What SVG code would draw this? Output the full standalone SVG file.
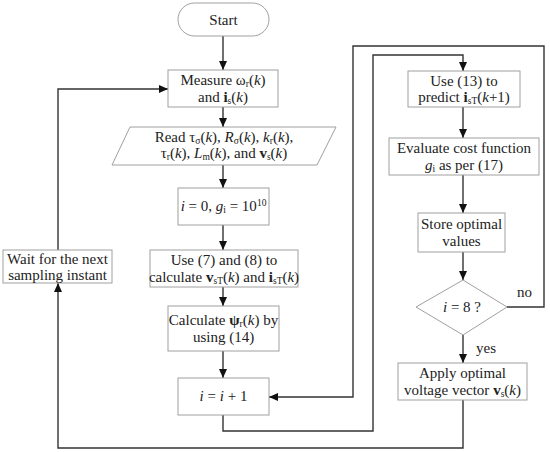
<svg xmlns="http://www.w3.org/2000/svg" width="550" height="452" viewBox="0 0 550 452">
<defs>
<style>
.box{fill:#fff;stroke:#a0a0a0;stroke-width:1}
.ln{fill:none;stroke:#333;stroke-width:1.4}
.t{font-family:"Liberation Serif","DejaVu Serif",serif;font-size:15px;fill:#222;text-anchor:middle}
.tl{font-family:"Liberation Serif","DejaVu Serif",serif;font-size:15px;fill:#222}
.i{font-style:italic}
.b{font-weight:bold}
.s{font-size:9.5px}
</style>
<marker id="ah" markerWidth="9" markerHeight="8" refX="9" refY="4" orient="auto" markerUnits="userSpaceOnUse">
<path d="M0,0 L9,4 L0,8 z" fill="#111"/>
</marker>
</defs>
<rect width="550" height="452" fill="#fff"/>

<g id="connectors">
<path class="ln" d="M223,36 V70" marker-end="url(#ah)"/>
<path class="ln" d="M223,107 V127" marker-end="url(#ah)"/>
<path class="ln" d="M223,165 V188" marker-end="url(#ah)"/>
<path class="ln" d="M223,225 V250" marker-end="url(#ah)"/>
<path class="ln" d="M223,287 V306" marker-end="url(#ah)"/>
<path class="ln" d="M223,351 V378" marker-end="url(#ah)"/>
<path class="ln" d="M223,415 V431 H373 V55 H463 V71" marker-end="url(#ah)"/>
<path class="ln" d="M463,107 V138" marker-end="url(#ah)"/>
<path class="ln" d="M463,175 V213" marker-end="url(#ah)"/>
<path class="ln" d="M463,252 V280" marker-end="url(#ah)"/>
<path class="ln" d="M463,335 V363" marker-end="url(#ah)"/>
<path class="ln" d="M507,307 H544 V46 H353 V397 H269" marker-end="url(#ah)"/>
<path class="ln" d="M463,400 V448 H58 V283" marker-end="url(#ah)"/>
<path class="ln" d="M58,250 V89 H168" marker-end="url(#ah)"/>
<text class="tl" x="517" y="297">no</text>
<text class="tl" x="476" y="353">yes</text>
</g>

<g id="start">
<rect class="box" x="178" y="3" width="91" height="33" rx="16.5"/>
<text class="t" x="223.5" y="24.5">Start</text>
</g>

<g id="measure">
<rect class="box" x="168" y="70" width="110" height="37"/>
<text class="t" x="223" y="85">Measure ω<tspan class="s" dy="2">r</tspan><tspan dy="-2">(</tspan><tspan class="i">k</tspan>)</text>
<text class="t" x="223" y="102">and <tspan class="b">i</tspan><tspan class="s" dy="2">s</tspan><tspan dy="-2">(</tspan><tspan class="i">k</tspan>)</text>
</g>

<g id="read">
<polygon class="box" points="130,127 336,127 317,165 112,165"/>
<text class="t" x="224" y="142">Read τ<tspan class="s" dy="2">σ</tspan><tspan dy="-2">(</tspan><tspan class="i">k</tspan>), <tspan class="i">R</tspan><tspan class="s" dy="2">σ</tspan><tspan dy="-2">(</tspan><tspan class="i">k</tspan>), <tspan class="i">k</tspan><tspan class="s" dy="2">r</tspan><tspan dy="-2">(</tspan><tspan class="i">k</tspan>),</text>
<text class="t" x="224" y="158">τ<tspan class="s" dy="2">r</tspan><tspan dy="-2">(</tspan><tspan class="i">k</tspan>), <tspan class="i">L</tspan><tspan class="s" dy="2">m</tspan><tspan dy="-2">(</tspan><tspan class="i">k</tspan>), and <tspan class="b">v</tspan><tspan class="s" dy="2">s</tspan><tspan dy="-2">(</tspan><tspan class="i">k</tspan>)</text>
</g>

<g id="init">
<rect class="box" x="178" y="188" width="91" height="37"/>
<text class="t" x="223.5" y="211"><tspan class="i">i</tspan> = 0, <tspan class="i">g</tspan><tspan class="s" dy="2">i</tspan><tspan dy="-2"> = 10</tspan><tspan class="s" dy="-5">10</tspan></text>
</g>

<g id="use78">
<rect class="box" x="150" y="250" width="148" height="37"/>
<text class="t" x="224" y="265">Use (7) and (8) to</text>
<text class="t" x="224" y="282">calculate <tspan class="b">v</tspan><tspan class="s" dy="2">sT</tspan><tspan dy="-2">(</tspan><tspan class="i">k</tspan>) and <tspan class="b">i</tspan><tspan class="s" dy="2">sT</tspan><tspan dy="-2">(</tspan><tspan class="i">k</tspan>)</text>
</g>

<g id="calcpsi">
<rect class="box" x="168" y="306" width="111" height="45"/>
<text class="t" x="223.5" y="325">Calculate <tspan class="b">ψ</tspan><tspan class="s" dy="2">r</tspan><tspan dy="-2">(</tspan><tspan class="i">k</tspan>) by</text>
<text class="t" x="223.5" y="342">using (14)</text>
</g>

<g id="incr">
<rect class="box" x="178" y="378" width="91" height="37"/>
<text class="t" x="223.5" y="401"><tspan class="i">i</tspan> = <tspan class="i">i</tspan> + 1</text>
</g>

<g id="wait">
<rect class="box" x="3" y="250" width="109" height="33"/>
<text class="t" x="57.5" y="264">Wait for the next</text>
<text class="t" x="57.5" y="280">sampling instant</text>
</g>

<g id="use13">
<rect class="box" x="408" y="71" width="112" height="36"/>
<text class="t" x="464" y="86">Use (13) to</text>
<text class="t" x="464" y="102">predict <tspan class="b">i</tspan><tspan class="s" dy="2">sT</tspan><tspan dy="-2">(</tspan><tspan class="i">k</tspan>+1)</text>
</g>

<g id="evaluate">
<rect class="box" x="389" y="138" width="150" height="37"/>
<text class="t" x="464" y="153">Evaluate cost function</text>
<text class="t" x="464" y="170"><tspan class="i">g</tspan><tspan class="s" dy="2">i</tspan><tspan dy="-2"> as per (17)</tspan></text>
</g>

<g id="store">
<rect class="box" x="418" y="213" width="87" height="39"/>
<text class="t" x="461.5" y="229">Store optimal</text>
<text class="t" x="461.5" y="246">values</text>
</g>

<g id="decision">
<polygon class="box" points="463,280 507,307 463,335 416,307"/>
<text class="t" x="462" y="312"><tspan class="i">i</tspan> = 8 ?</text>
</g>

<g id="apply">
<rect class="box" x="398" y="363" width="129" height="37"/>
<text class="t" x="462.5" y="378">Apply optimal</text>
<text class="t" x="462.5" y="395">voltage vector <tspan class="b">v</tspan><tspan class="s" dy="2">s</tspan><tspan dy="-2">(</tspan><tspan class="i">k</tspan>)</text>
</g>
</svg>
